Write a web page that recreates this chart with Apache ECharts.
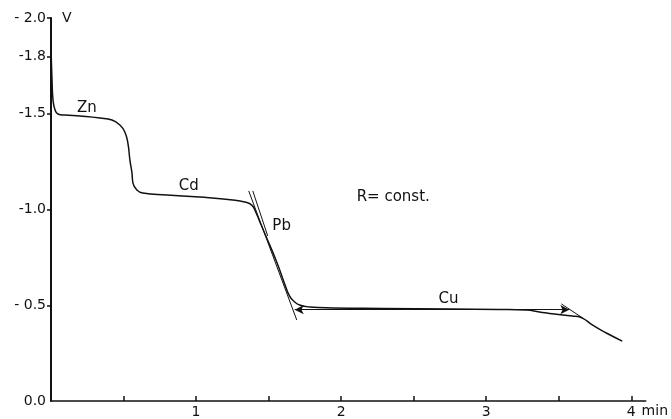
<!DOCTYPE html>
<html>
<head>
<meta charset="utf-8">
<script src="https://cdn.jsdelivr.net/npm/echarts@6/dist/echarts.min.js"></script>
<style>html,body{margin:0;padding:0;background:#fff;}#c{width:671px;height:419px;}</style>
</head>
<body>
<div id="c"></div>
<script>
// Time (min) and potential (V) of the chronopotentiogram
const curveT = [0, 0.007, 0.014, 0.028, 0.048, 0.096, 0.200, 0.337, 0.420, 0.475, 0.509, 0.530, 0.544, 0.558, 0.565, 0.592, 0.633, 0.799, 1.026, 1.253, 1.336, 1.384, 1.411, 1.446, 1.487, 1.556, 1.611, 1.645, 1.680, 1.714, 1.783, 1.941, 2.286, 2.747, 3.091, 3.277, 3.367, 3.470, 3.594, 3.663, 3.731, 3.828, 3.938];
const curveV = [-1.849, -1.676, -1.572, -1.520, -1.499, -1.493, -1.488, -1.478, -1.467, -1.441, -1.405, -1.347, -1.258, -1.191, -1.138, -1.102, -1.086, -1.076, -1.065, -1.050, -1.039, -1.023, -0.987, -0.924, -0.851, -0.726, -0.611, -0.548, -0.517, -0.501, -0.491, -0.486, -0.483, -0.480, -0.478, -0.475, -0.465, -0.454, -0.444, -0.433, -0.397, -0.355, -0.313];

// Construction lines (tangents)
const tangentA_T = [1.363, 1.694];
const tangentA_V = [-1.097, -0.423];
const tangentB_T = [1.391, 1.494];
const tangentB_V = [-1.097, -0.862];
const tangentC_T = [3.518, 3.676];
const tangentC_V = [-0.507, -0.428];
// Transition time arrow for Cu
const arrowT = [1.680, 3.573];
const arrowV = [-0.477, -0.477];

// Tick values / labels
const xTickValues = [0.5, 1, 1.5, 2, 2.5, 3, 3.5, 4];
const xLabelValues = [1, 2, 3, 4];
const yTickValues = [-2.0, -1.8, -1.5, -1.0, -0.5];
const yLabelValues = [-2.0, -1.8, -1.5, -1.0, -0.5, 0];
const yLabelTexts = ['- 2.0', '-1.8', '-1.5', '-1.0', '- 0.5', '0.0'];

// Annotations (data coordinates)
const annoText = ['Zn', 'Cd', 'Pb', 'Cu', 'R= const.'];
const annoT = [0.248, 0.950, 1.590, 2.740, 2.107];
const annoV = [-1.530, -1.123, -0.914, -0.533, -1.065];

const zip = (a, b) => a.map((v, i) => [v, b[i]]);
const FONT = 'DejaVu Sans';
const black = '#111';

const chart = echarts.init(document.getElementById('c'), null, {renderer: 'canvas'});
chart.setOption({
  animation: false,
  backgroundColor: '#fff',
  grid: {left: 51, top: 18, right: 24.5, bottom: 18, containLabel: false},
  xAxis: {
    type: 'value', min: 0, max: 4.1,
    name: 'min', nameLocation: 'end', nameGap: -6,
    nameTextStyle: {color: black, fontFamily: FONT, fontSize: 14, align: 'left', verticalAlign: 'top', padding: [3, 0, 0, 0]},
    axisLine: {show: true, onZero: false, lineStyle: {color: black, width: 1.5}},
    axisTick: {show: true, inside: true, length: 5, customValues: xTickValues, lineStyle: {color: black, width: 1.5}},
    axisLabel: {show: true, customValues: xLabelValues, color: black, fontFamily: FONT, fontSize: 14, margin: 4},
    splitLine: {show: false}
  },
  yAxis: {
    type: 'value', min: -2.0, max: 0, inverse: true,
    name: 'V', nameLocation: 'start', nameGap: 0,
    nameTextStyle: {color: black, fontFamily: FONT, fontSize: 14, align: 'left', verticalAlign: 'middle', padding: [0, 0, 0, 11]},
    axisLine: {show: true, onZero: false, lineStyle: {color: black, width: 2}},
    axisTick: {show: true, inside: false, length: 4, customValues: yTickValues, lineStyle: {color: black, width: 1.5}},
    axisLabel: {show: true, customValues: yLabelValues, color: black, fontFamily: FONT, fontSize: 14, margin: 5,
      formatter: v => { const i = yLabelValues.findIndex(x => Math.abs(x - v) < 1e-6); return i >= 0 ? yLabelTexts[i] : ''; }},
    splitLine: {show: false}
  },
  series: [
    {type: 'line', data: zip(curveT, curveV), showSymbol: false, smooth: 0.5,
      lineStyle: {color: black, width: 1.5}, silent: true},
    {type: 'line', data: zip(tangentA_T, tangentA_V), showSymbol: false, lineStyle: {color: black, width: 1}, silent: true},
    {type: 'line', data: zip(tangentB_T, tangentB_V), showSymbol: false, lineStyle: {color: black, width: 1}, silent: true},
    {type: 'line', data: zip(tangentC_T, tangentC_V), showSymbol: false, lineStyle: {color: black, width: 1}, silent: true,
      markLine: {silent: true, symbol: ['arrow', 'arrow'], symbolSize: [7, 9], label: {show: false},
        lineStyle: {color: black, width: 1, type: 'solid'},
        data: [[{coord: [arrowT[0], arrowV[0]]}, {coord: [arrowT[1], arrowV[1]]}]]}}
  ]
});

// Place annotation texts at their data coordinates through the chart's own scales
chart.setOption({
  graphic: annoText.map((txt, i) => {
    const p = chart.convertToPixel({gridIndex: 0}, [annoT[i], annoV[i]]);
    return {
      type: 'text', x: p[0], y: p[1], silent: true,
      style: {text: txt, fill: black, font: '15px "' + FONT + '"',
        textAlign: i === 4 ? 'left' : 'center', textVerticalAlign: 'middle'}
    };
  })
});
</script>
</body>
</html>
